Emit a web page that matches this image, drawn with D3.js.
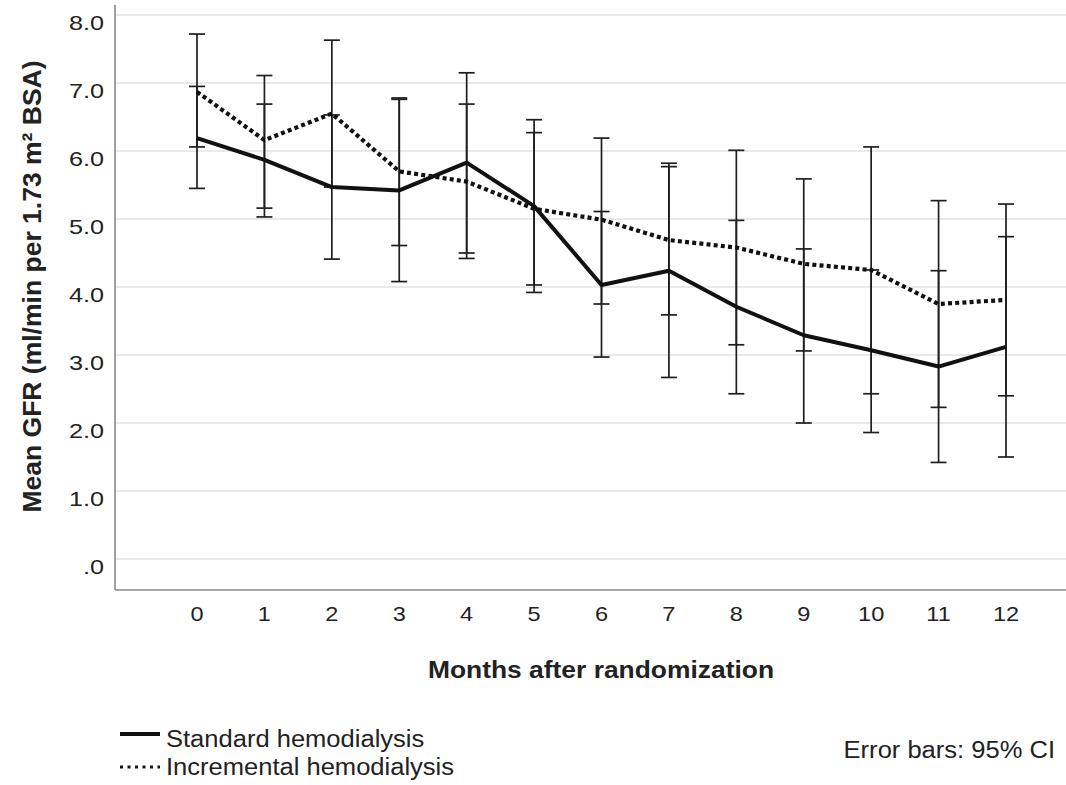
<!DOCTYPE html>
<html>
<head>
<meta charset="utf-8">
<script src="https://cdn.jsdelivr.net/npm/d3@7"></script>
<style>
  body { margin: 0; background: #fff; }
  text { font-family: "Liberation Sans", Arial, sans-serif; fill: #222; }
</style>
</head>
<body>
<div id="chart"></div>
<script>
const months = [0, 1, 2, 3, 4, 5, 6, 7, 8, 9, 10, 11, 12];
const yTicks = [0, 1, 2, 3, 4, 5, 6, 7, 8];

const stdMean = [6.19, 5.87, 5.47, 5.42, 5.83, 5.19, 4.03, 4.24, 3.71, 3.29, 3.07, 2.83, 3.12];
const stdLow  = [5.45, 5.03, 4.41, 4.08, 4.50, 3.92, 2.97, 2.67, 2.43, 2.00, 1.86, 1.42, 1.50];
const stdHigh = [6.95, 6.69, 6.53, 6.76, 7.15, 6.46, 5.11, 5.82, 4.98, 4.56, 4.25, 4.24, 4.74];

const incMean = [6.87, 6.16, 6.55, 5.70, 5.55, 5.15, 4.99, 4.69, 4.58, 4.34, 4.25, 3.75, 3.81];
const incLow  = [6.06, 5.16, 5.47, 4.61, 4.42, 4.03, 3.75, 3.59, 3.15, 3.06, 2.43, 2.23, 2.40];
const incHigh = [7.72, 7.11, 7.63, 6.78, 6.69, 6.27, 6.19, 5.77, 6.01, 5.59, 6.06, 5.27, 5.22];

const series = [
    { name: "Standard hemodialysis", mean: stdMean, low: stdLow, high: stdHigh, dash: null },
    { name: "Incremental hemodialysis", mean: incMean, low: incLow, high: incHigh, dash: "4,3.2" }
];

const width = 1066, height = 785;
const axisLeft = 115, axisBottom = 590, axisTop = 5;

const x = d3.scaleLinear().domain([0, 12]).range([197, 1006]);
const y = d3.scaleLinear().domain([0, 8]).range([559, 15]);

const svg = d3.select('#chart').append('svg')
    .attr('width', width)
    .attr('height', height);

svg.append('rect').attr('width', width).attr('height', height).attr('fill', '#fff');

// stretch text horizontally like the (widened) original picture
const stretch = (sel, k) => sel.each(function() {
    const w = this.getComputedTextLength();
    d3.select(this).attr('textLength', w * k).attr('lengthAdjust', 'spacingAndGlyphs');
});

// grid lines
svg.append('g')
    .selectAll('line')
    .data(yTicks)
  .enter().append('line')
    .attr('x1', axisLeft)
    .attr('x2', width)
    .attr('y1', d => y(d))
    .attr('y2', d => y(d))
    .style('stroke', '#e2e2e2')
    .style('stroke-width', '1.6px');

// axes frame
svg.append('line')
    .attr('x1', axisLeft).attr('x2', axisLeft)
    .attr('y1', axisTop).attr('y2', axisBottom)
    .style('stroke', '#8a8a8a').style('stroke-width', '1.6px');
svg.append('line')
    .attr('x1', axisLeft).attr('x2', width)
    .attr('y1', axisBottom).attr('y2', axisBottom)
    .style('stroke', '#8a8a8a').style('stroke-width', '1.6px');

// y tick labels
svg.append('g')
    .selectAll('text')
    .data(yTicks)
  .enter().append('text')
    .attr('x', 104)
    .attr('y', d => y(d) + 14.5)
    .attr('text-anchor', 'end')
    .attr('font-size', '21px')
    .text(d => d === 0 ? '.0' : d.toFixed(1))
    .call(stretch, 1.2);

// x tick labels
svg.append('g')
    .selectAll('text')
    .data(months)
  .enter().append('text')
    .attr('x', d => x(d))
    .attr('y', 621)
    .attr('text-anchor', 'middle')
    .attr('font-size', '21px')
    .text(d => d)
    .call(stretch, 1.12);

// error bars
const capW = 8;
series.forEach(s => {
    const g = svg.append('g')
        .style('stroke', '#1e1e1e')
        .style('stroke-width', '1.7px');
    months.forEach((m, i) => {
        g.append('line')
            .attr('x1', x(m)).attr('x2', x(m))
            .attr('y1', y(s.low[i])).attr('y2', y(s.high[i]));
        [s.low[i], s.high[i]].forEach(v => {
            g.append('line')
                .attr('x1', x(m) - capW).attr('x2', x(m) + capW)
                .attr('y1', y(v)).attr('y2', y(v));
        });
    });
});

// mean lines
const line = d3.line()
    .x((d, i) => x(months[i]))
    .y(d => y(d));

series.forEach(s => {
    svg.append('path')
        .datum(s.mean)
        .attr('d', line)
        .attr('fill', 'none')
        .style('stroke', '#111')
        .style('stroke-width', s.dash ? '4.2px' : '4px')
        .style('stroke-linejoin', 'round')
        .style('stroke-dasharray', s.dash);
});

// axis titles
svg.append('text')
    .attr('x', 601)
    .attr('y', 678)
    .attr('text-anchor', 'middle')
    .attr('font-size', '24px')
    .attr('font-weight', 'bold')
    .text('Months after randomization')
    .call(stretch, 1.1);

svg.append('text')
    .attr('transform', 'translate(41,286.5) rotate(-90)')
    .attr('text-anchor', 'middle')
    .attr('font-size', '26.5px')
    .attr('font-weight', 'bold')
    .text('Mean GFR (ml/min per 1.73 m\u00b2 BSA)');

// legend
const legend = svg.append('g');
const legendY = [734, 767];
const legendTextY = [746.5, 775];
series.forEach((s, i) => {
    legend.append('line')
        .attr('x1', 120).attr('x2', 160)
        .attr('y1', legendY[i]).attr('y2', legendY[i])
        .style('stroke', '#111')
        .style('stroke-width', s.dash ? '3px' : '4px')
        .style('stroke-dasharray', s.dash ? '3,4.5' : null);
    legend.append('text')
        .attr('x', 166)
        .attr('y', legendTextY[i])
        .attr('font-size', '23px')
        .text(s.name)
        .call(stretch, 1.11);
});

svg.append('text')
    .attr('x', 1055)
    .attr('y', 758)
    .attr('text-anchor', 'end')
    .attr('font-size', '23px')
    .text('Error bars: 95% CI')
    .call(stretch, 1.11);
</script>
</body>
</html>
